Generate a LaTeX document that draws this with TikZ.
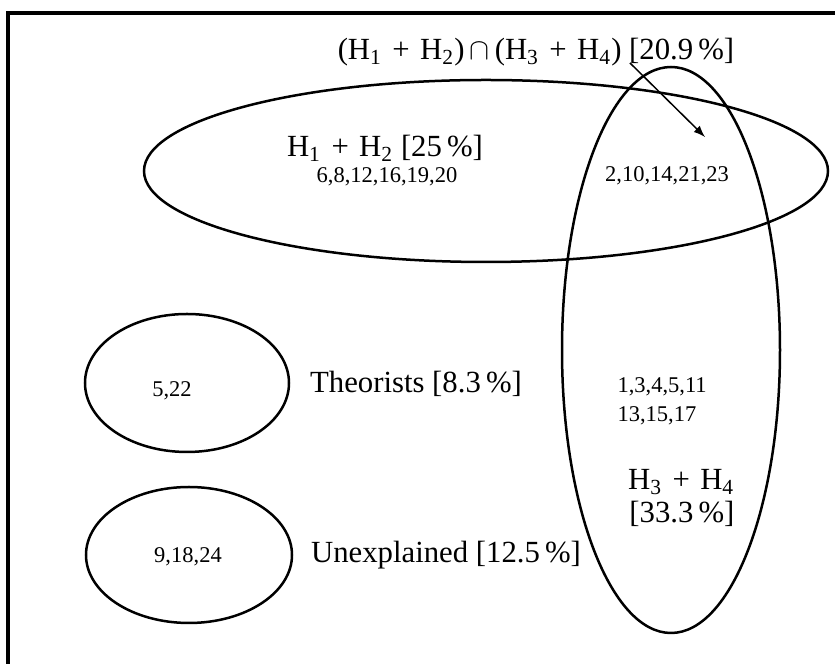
\documentclass[tikz,border=0pt]{standalone}
\usepackage{fontspec}
\setmainfont{Liberation Serif}

\tikzset{
  cadre/.style={line width=1.3pt},
  ensemble/.style={line width=1pt},
  grand/.style={font=\fontsize{12.3}{14}\selectfont, inner sep=0pt, anchor=base},
  petit/.style={font=\fontsize{9}{11}\selectfont, inner sep=0pt, anchor=base},
}
\newcommand{\Hs}[1]{H\textsubscript{#1}}

\begin{document}
\begin{tikzpicture}[x=0.4pt,y=-0.4pt]
  \useasboundingbox (0,0) rectangle (835,664);
  % Cadre
  \draw[cadre] (835,13) -- (8,13) -- (8,664);

  % Ensembles
  \draw[ensemble] (486,171) ellipse [x radius=342, y radius=91];
  \draw[ensemble] (671,350) ellipse [x radius=109, y radius=283];
  \draw[ensemble] (187,383) ellipse [x radius=102, y radius=69];
  \draw[ensemble] (189,555) ellipse [x radius=103, y radius=68];

  % Intersection
  \node[grand] (inter) at (536,60) {(\Hs{1}\,\,+\,\,\Hs{2})\,$\cap$\,(\Hs{3}\,\,+\,\,\Hs{4}) [20.9\,\%]};
  \coordinate (depart) at (630,63);
  \coordinate (cible) at (705,137);
  \draw[->,>=latex,line width=0.6pt] (depart) -- (cible);
  \node[petit] (commun) at (667,182) {2,10,14,21,23};

  % H1 + H2
  \node[grand] (hun) at (385,157) {\Hs{1}\,\,+\,\,\Hs{2} [25\,\%]};
  \node[petit] (hunnum) at (387,183) {6,8,12,16,19,20};

  % H3 + H4
  \node[petit, anchor=base west] (htroisnum) at (617,393) {1,3,4,5,11};
  \node[petit, anchor=base west] (htroisbis) at (617,422) {13,15,17};
  \node[grand, anchor=base east] (htrois) at (735,490) {\Hs{3}\,\,+\,\,\Hs{4}};
  \node[grand, anchor=base east] (htroispc) at (735,523) {[33.3\,\%]};

  % Theoriciens
  \node[petit] (theonum) at (172,397) {5,22};
  \node[grand] (theo) at (416,393) {Theorists [8.3\,\%]};

  % Inexpliques
  \node[petit] (inexnum) at (188,563) {9,18,24};
  \node[grand] (inex) at (446,563) {Unexplained [12.5\,\%]};
\end{tikzpicture}
\end{document}
